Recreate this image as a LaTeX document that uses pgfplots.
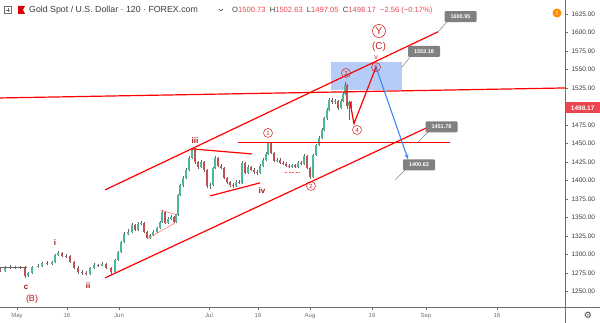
\documentclass[border=0pt]{standalone}
\usepackage{pgfplots}
\pgfplotsset{compat=1.18}
\usepackage{pgfplotstable}
\usepackage{fontspec}
\setmainfont{Liberation Sans}
\newfontfamily\djv{DejaVu Sans}
\usetikzlibrary{arrows.meta}

\definecolor{upc}{RGB}{70,185,155}
\definecolor{dnc}{RGB}{195,80,80}
\definecolor{wickc}{RGB}{100,100,100}
\definecolor{tvred}{RGB}{255,0,0}
\definecolor{lblred}{RGB}{210,30,30}
\definecolor{romred}{RGB}{170,20,20}
\definecolor{tvblue}{RGB}{66,133,244}
\definecolor{boxblue}{RGB}{168,196,245}
\definecolor{callg}{RGB}{128,128,128}
\definecolor{axg}{RGB}{110,110,110}
\definecolor{txtd}{RGB}{60,60,60}
\definecolor{pricered}{RGB}{235,70,80}

\pgfplotstableread{
x o h l c
0 1280.0 1282 1276.5 1278.1
5 1278.1 1284 1277 1282.1
10 1282.1 1285.5 1280.5 1283.5
15 1283.5 1285 1280 1282.1
20 1282.1 1285 1280.5 1283.0
25 1283.0 1284 1268.5 1271.3
28 1271.3 1277 1269.5 1275.4
32 1275.4 1285 1274 1283.5
38 1283.5 1287 1281.5 1284.8
42 1284.8 1290.5 1283.5 1288.9
47 1288.9 1291 1285.5 1287.5
52 1287.5 1292 1286 1290.2
55 1290.2 1301 1289 1299.7
58 1299.7 1305 1298 1302.4
62 1302.4 1304 1296.5 1298.3
66 1298.3 1301 1295.5 1297.5
70 1297.5 1299 1288.5 1290.2
74 1290.2 1292 1280 1282.1
78 1282.1 1284 1274.5 1276.7
82 1276.7 1279 1273 1275.4
86 1275.4 1277.5 1272 1274.0
90 1274.0 1283.5 1273 1282.1
94 1282.1 1289 1280.5 1286.2
98 1286.2 1288 1283 1285.0
102 1285.0 1290.5 1284 1287.5
106 1287.5 1289 1280 1282.1
111 1282.1 1283.5 1274.5 1276.7
115 1276.7 1294.5 1275.5 1292.9
118 1292.9 1305 1291.5 1303.7
121 1303.7 1319 1302.5 1317.2
124 1317.2 1330 1316 1328.0
128 1328.0 1334 1326 1330.7
132 1330.7 1342.5 1329 1340.2
135 1340.2 1342 1331.5 1333.4
138 1333.4 1344 1332 1341.5
141 1341.5 1346 1339.5 1342.9
144 1342.9 1344 1329 1330.7
147 1330.7 1332 1320.5 1322.6
150 1322.6 1328.5 1321 1326.7
153 1326.7 1333 1325 1330.7
157 1330.7 1338 1329 1336.1
160 1336.1 1346 1334.5 1344.2
162 1344.2 1360 1343 1357.7
165 1357.7 1359 1341 1342.9
168 1342.9 1350.5 1341.5 1348.3
171 1348.3 1353.5 1346.5 1351.0
174 1351.0 1352.5 1342.5 1344.2
176 1344.2 1355.5 1343 1353.7
178 1353.7 1382 1352.5 1380.7
180 1380.7 1396 1379 1394.2
183 1394.2 1406 1392 1403.6
186 1403.6 1417 1401.5 1414.4
189 1414.4 1433 1413 1430.6
192 1430.6 1444.5 1429 1442.8
195 1442.8 1443.5 1423 1425.2
198 1425.2 1427 1416 1418.5
201 1418.5 1428 1417 1425.2
204 1425.2 1426.5 1412 1414.4
207 1414.4 1416 1389.5 1392.8
210 1392.8 1397 1388.5 1394.2
213 1394.2 1419 1393 1417.1
215 1417.1 1433 1416 1430.6
218 1430.6 1432 1418 1419.8
221 1419.8 1422.5 1415 1417.1
224 1417.1 1419 1401.5 1403.6
227 1403.6 1405.5 1396 1398.2
230 1398.2 1400 1392 1394.2
233 1394.2 1396.5 1390 1392.8
236 1392.8 1400.5 1391.5 1398.2
239 1398.2 1401 1395 1397.0
242 1397.0 1426 1396 1423.9
245 1423.9 1425 1408.5 1410.4
248 1410.4 1421 1409 1418.5
251 1418.5 1420 1412.5 1414.4
254 1414.4 1416.5 1409.5 1411.7
257 1411.7 1414 1408 1410.4
260 1410.4 1422 1409 1419.8
263 1419.8 1430 1418.5 1427.9
266 1427.9 1438 1426.5 1436.0
268 1436.0 1452.5 1434.5 1450.9
271 1450.9 1452 1435.5 1437.4
274 1437.4 1439 1424.5 1426.6
277 1426.6 1430.5 1424.5 1427.9
280 1427.9 1430 1422 1423.9
283 1423.9 1426 1420.5 1422.5
286 1422.5 1424.5 1418 1419.8
289 1419.8 1422 1416.5 1418.5
292 1418.5 1423 1416.5 1421.1
295 1421.1 1423 1416.5 1418.5
298 1418.5 1426 1417 1423.9
301 1423.9 1426 1420.5 1422.5
304 1422.5 1435.5 1421 1433.3
307 1433.3 1434.5 1415 1417.1
310 1417.1 1418.5 1401.5 1405.0
313 1405.0 1436.5 1403.5 1434.7
316 1434.7 1450 1433 1448.2
319 1448.2 1460 1446.5 1457.6
322 1457.6 1470.5 1455.5 1468.4
324 1468.4 1486.5 1467 1484.6
327 1484.6 1497.5 1482.5 1495.4
329 1495.4 1511 1494 1508.9
332 1508.9 1511.5 1503.5 1506.2
335 1506.2 1510 1503 1507.6
338 1507.6 1509 1495 1498.1
341 1498.1 1510 1496.5 1507.6
343 1507.6 1519 1506 1517.0
345 1517.0 1533.5 1515.5 1529.2
347 1529.2 1531 1497 1500.8
349 1500.8 1508 1482 1506.2
351 1506.2 1508 1496.5 1498.2
}\candles

\begin{document}
\begin{tikzpicture}[x=1pt,y=1pt]
\begin{axis}[
  at={(0,0)}, anchor=south west,
  width=565pt, height=307pt, scale only axis,
  xmin=0, xmax=565, ymin=1229.3, ymax=1643.9,
  axis x line*=bottom, axis y line*=right,
  axis line style={axg, line width=0.6pt},
  clip=false,
  ytick={1250,1275,...,1625},
  yticklabel style={font=\fontsize{6.5}{7}\selectfont, text=txtd},
  xtick={17,67,119,209,258,310,372,426,497},
  xticklabels={May,16,Jun,Jul,16,Aug,19,Sep,16},
  xticklabel style={font=\fontsize{6}{7}\selectfont, text=axg},
  tick style={axg, line width=0.5pt},
  major tick length=3pt, tick align=outside,
  /pgf/number format/fixed, /pgf/number format/fixed zerofill,
  /pgf/number format/precision=2, /pgf/number format/1000 sep={},
  /pgf/number format/assume math mode=true,
]
% blue target box
\addplot[draw=none, fill=boxblue, fill opacity=0.85] coordinates {(331,1522.4) (402,1522.4) (402,1560.2) (331,1560.2)} -- cycle;

% candles: wicks
\addplot[draw=none, no markers, error bars/.cd, y dir=plus, y explicit, error mark=none,
  error bar style={draw=wickc, line width=0.45pt}]
  table[x=x, y=l, y error expr=\thisrow{h}-\thisrow{l}] {\candles};
% up bodies
\addplot[draw=none, no markers, error bars/.cd, y dir=plus, y explicit, error mark=none,
  error bar style={draw=upc, line width=1.7pt}]
  table[x=x, y=o, y error expr={max(\thisrow{c}-\thisrow{o},0)}] {\candles};
% down bodies
\addplot[draw=none, no markers, error bars/.cd, y dir=minus, y explicit, error mark=none,
  error bar style={draw=dnc, line width=1.7pt}]
  table[x=x, y=o, y error expr={max(\thisrow{o}-\thisrow{c},0)}] {\candles};

% small grey line at start
\addplot[wickc, line width=0.6pt] coordinates {(0,1283.5) (27,1283.5)};

% triangle (light red)
\addplot[red!55, line width=0.6pt] coordinates {(160,1360.4) (177,1353.7)};
\addplot[red!55, line width=0.6pt] coordinates {(147,1321.25) (175,1342.9)};

% channel lines
\addplot[tvred, line width=1.2pt] coordinates {(105,1387.4) (438,1600.95)};
\addplot[tvred, line width=1.2pt] coordinates {(105,1268.6) (437,1477.8)};
% long resistance line
\addplot[tvred, line width=1.2pt] coordinates {(0,1511.6) (565,1525.1)};
% wave 1 level
\addplot[tvred, line width=1.2pt] coordinates {(238,1451.78) (450,1451.78)};
% iii and iv lines
\addplot[tvred, line width=1.2pt] coordinates {(192,1442.8) (252,1436.0)};
\addplot[tvred, line width=1.2pt] coordinates {(210,1379.3) (260,1396.9)};
% dashed
\addplot[red!70, line width=0.7pt, dash pattern=on 2pt off 1.5pt] coordinates {(285,1411.7) (300,1411.7)};

% projected path 3-4-5
\addplot[tvred, line width=1.2pt] coordinates {(350,1506) (354,1477) (376,1553.18)};
% blue arrow
\addplot[tvblue, line width=1.1pt, -{Stealth[length=5pt,width=4pt]}] coordinates {(376,1553.18) (408,1429)};

% callouts
\addplot[callg, line width=0.5pt] coordinates {(438,1600.95) (447,1614)};
\addplot[callg, line width=0.5pt] coordinates {(402,1553.18) (410,1566.9)};
\addplot[callg, line width=0.5pt] coordinates {(418,1451.78) (428,1465.7)};
\addplot[callg, line width=0.5pt] coordinates {(395,1400.63) (405,1414.4)};

\tikzset{callout/.style={fill=callg, text=white, font=\bfseries\fontsize{5.5}{6}\selectfont, minimum width=32pt, minimum height=11pt, inner sep=1pt, rounded corners=1pt}}
\node[callout] at (axis cs:460.5,1621.6) {1600.95};
\node[callout] at (axis cs:424,1574.4) {1553.18};
\node[callout] at (axis cs:441.5,1472.5) {1451.78};
\node[callout] at (axis cs:419,1421.2) {1400.63};

% wave labels
\tikzset{circ/.style={circle, draw=lblred, line width=0.5pt, text=lblred, font=\fontsize{6}{6}\selectfont, minimum size=9pt, inner sep=0pt},
         rom/.style={text=romred, font=\bfseries\fontsize{8}{8}\selectfont, inner sep=0pt}}
\node[circ] at (axis cs:268,1464.35) {1};
\node[circ] at (axis cs:311,1392.8) {2};
\node[circ] at (axis cs:346,1545.35) {3};
\node[circ] at (axis cs:357,1468.4) {4};
\node[circ] at (axis cs:376,1553.18) {5};
\node[text=lblred, font=\fontsize{7}{7}\selectfont, inner sep=0pt] at (axis cs:376,1565.6) {v};
\node[text=lblred, font=\fontsize{10}{10}\selectfont, inner sep=0pt] at (axis cs:379,1580.45) {(C)};
\node[circle, draw=lblred, line width=0.6pt, text=lblred, font=\fontsize{10}{10}\selectfont, minimum size=13pt, inner sep=0pt] at (axis cs:379,1602.05) {Y};
\node[rom] at (axis cs:195,1453.55) {iii};
\node[rom] at (axis cs:262,1386.05) {iv};
\node[rom] at (axis cs:55,1315.85) {i};
\node[rom] at (axis cs:88,1257.8) {ii};
\node[rom] at (axis cs:26,1256.45) {c};
\node[text=romred, font=\fontsize{9}{9}\selectfont, inner sep=0pt] at (axis cs:32,1240.25) {(B)};

% price tag
\node[anchor=west, fill=pricered, text=white, font=\bfseries\fontsize{6.5}{7}\selectfont, minimum width=35pt, minimum height=11pt, inner sep=1pt] at (axis cs:565,1498.17) {1498.17};
\end{axis}

% frame lines
\draw[axg, line width=0.6pt] (0,0) -- (600,0);
\draw[axg, line width=0.6pt] (565,307) -- (565,-16);

% header
\draw[axg, line width=0.5pt] (4.5,293.5) rectangle (11.5,300.5);
\draw[axg, line width=0.5pt] (8,295) -- (8,299) (6,297) -- (10,297);
\fill[tvred!85!black] (18,293) -- (25,293) -- (23,297) -- (25,301) -- (18,301) -- cycle;
\node[anchor=west, text=txtd, font=\fontsize{8.8}{9}\selectfont, inner sep=0pt] at (29,297) {Gold Spot / U.S. Dollar · 120 · FOREX.com};
\draw[txtd, line width=0.5pt] (219,298) -- (221,296) -- (223,298);
\node[anchor=west, text=txtd, font=\fontsize{7.6}{8}\selectfont, inner sep=0pt] at (232,296.5) {O\textcolor{pricered}{1500.73}\ \ H\textcolor{pricered}{1502.63}\ \ L\textcolor{pricered}{1497.05}\ \ C\textcolor{pricered}{1498.17}\ \ \textcolor{pricered}{−2.56 (−0.17\%)}};

% alert icon
\node[circle, fill=orange!90!yellow, text=white, font=\bfseries\fontsize{6}{6}\selectfont, minimum size=9pt, inner sep=0pt] at (557,294) {!};
% gear
\node[text=txtd, font=\djv\fontsize{9}{9}\selectfont, inner sep=0pt] at (588,-8) {⚙};

\pgfresetboundingbox
\path[use as bounding box] (0,-16) rectangle (600,307);
\end{tikzpicture}
\end{document}
